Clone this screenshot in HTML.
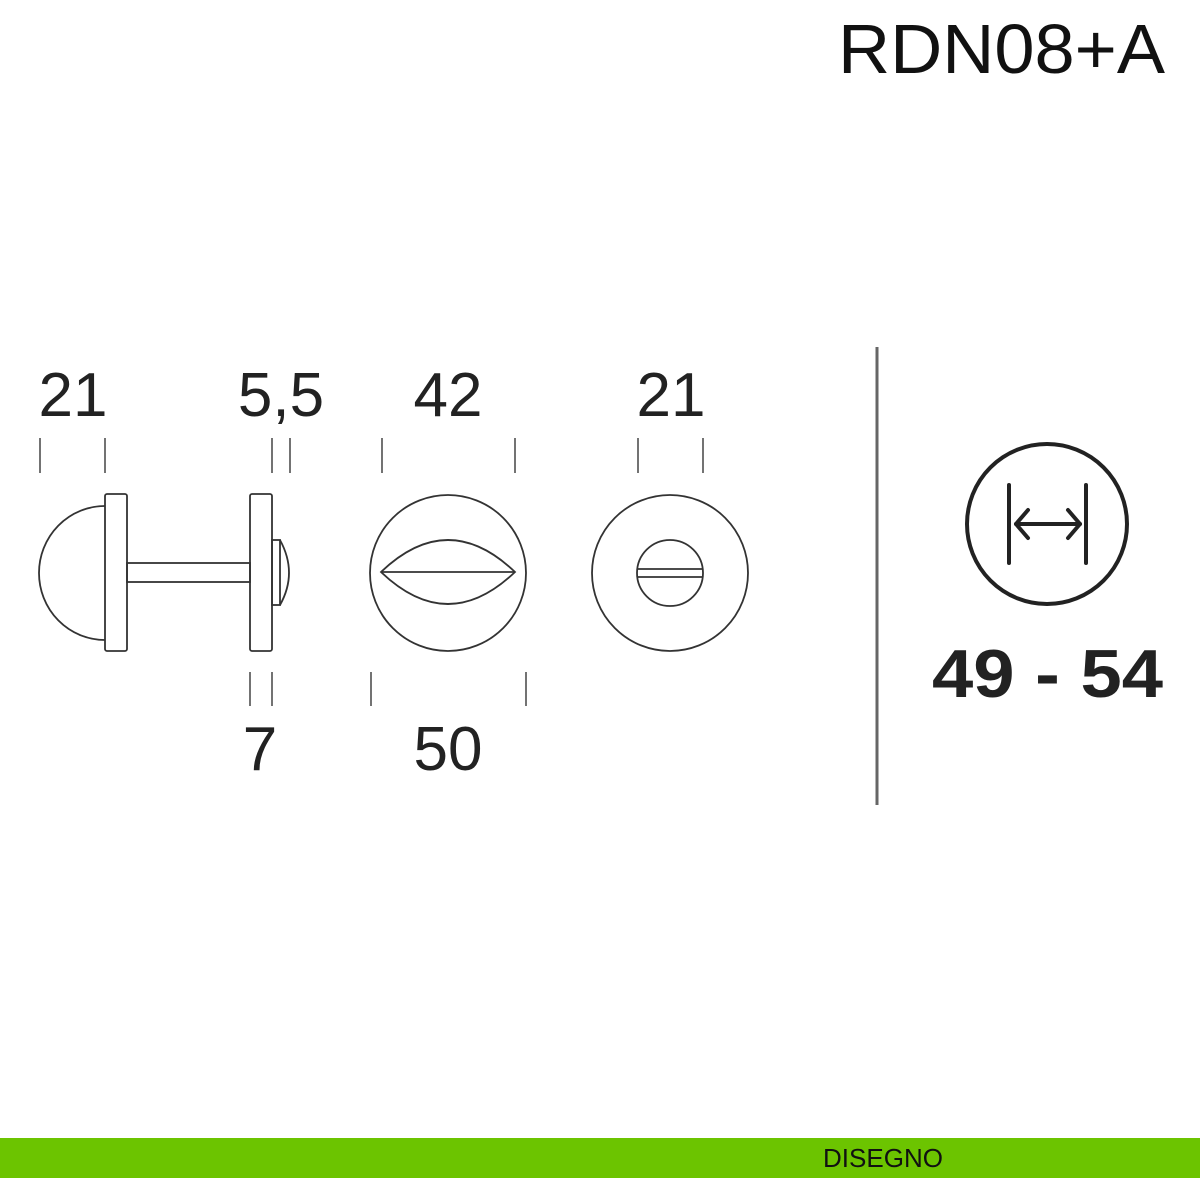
<!DOCTYPE html>
<html><head><style>
body{margin:0;background:#fff}
svg{display:block}
text{font-family:"Liberation Sans",sans-serif;fill:#222}
</style></head><body>
<svg width="1200" height="1200" viewBox="0 0 1200 1200">
<text x="838" y="73" font-size="70" textLength="327" lengthAdjust="spacingAndGlyphs" style="fill:#111">RDN08+A</text>
<g font-size="62" text-anchor="middle">
<text x="73" y="416">21</text>
<text x="281" y="416">5,5</text>
<text x="448" y="416">42</text>
<text x="671" y="416">21</text>
<text x="260" y="770">7</text>
<text x="448" y="770">50</text>
</g>
<g stroke="#444" stroke-width="1.5">
<line x1="40" y1="438" x2="40" y2="473"/><line x1="105" y1="438" x2="105" y2="473"/>
<line x1="272" y1="438" x2="272" y2="473"/><line x1="290" y1="438" x2="290" y2="473"/>
<line x1="382" y1="438" x2="382" y2="473"/><line x1="515" y1="438" x2="515" y2="473"/>
<line x1="638" y1="438" x2="638" y2="473"/><line x1="703" y1="438" x2="703" y2="473"/>
<line x1="250" y1="672" x2="250" y2="706"/><line x1="272" y1="672" x2="272" y2="706"/>
<line x1="371" y1="672" x2="371" y2="706"/><line x1="526" y1="672" x2="526" y2="706"/>
</g>
<g fill="none" stroke="#333" stroke-width="1.8">
<path d="M105 506 A66 67 0 0 0 105 640"/>
<rect x="105" y="494" width="22" height="157" rx="2"/>
<rect x="127" y="563" width="123" height="19"/>
<rect x="250" y="494" width="22" height="157" rx="2"/>
<rect x="272" y="540" width="8" height="65"/>
<path d="M280 540 Q298 573 280 605"/>
<circle cx="448" cy="573" r="78"/>
<path d="M381 572 Q448 508 515 572 Q448 636 381 572 Z"/>
<line x1="381" y1="572" x2="515" y2="572"/>
<circle cx="670" cy="573" r="78"/>
<circle cx="670" cy="573" r="33"/>
<line x1="638" y1="569" x2="702" y2="569"/>
<line x1="638" y1="577" x2="702" y2="577"/>
</g>
<line x1="877" y1="347" x2="877" y2="805" stroke="#666" stroke-width="3"/>
<g fill="none" stroke="#222" stroke-width="4" stroke-linecap="round" stroke-linejoin="round">
<circle cx="1047" cy="524" r="80"/>
<line x1="1009" y1="485" x2="1009" y2="563"/>
<line x1="1086" y1="485" x2="1086" y2="563"/>
<line x1="1016" y1="524" x2="1080" y2="524"/>
<path d="M1028 510 L1016 524 L1028 538"/>
<path d="M1068 510 L1080 524 L1068 538"/>
</g>
<text x="932" y="697" font-size="68" font-weight="bold" textLength="231" lengthAdjust="spacingAndGlyphs">49 - 54</text>
<rect x="0" y="1138" width="1200" height="40" fill="#6cc400"/>
<text x="883" y="1167" text-anchor="middle" font-size="26" style="fill:#111">DISEGNO</text>
</svg>
</body></html>
